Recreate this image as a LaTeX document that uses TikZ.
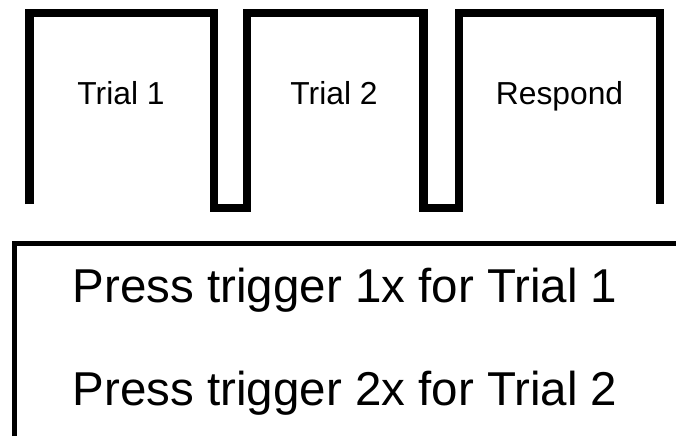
\documentclass[tikz,border=0pt]{standalone}
\usepackage{fontspec}
\setmainfont{Liberation Sans}
\begin{document}
\begin{tikzpicture}[x=1pt,y=-1pt,
  wave/.style={line width=8.5pt, line join=miter, line cap=butt},
  frameline/.style={line width=5pt, line cap=butt},
  phase/.style={anchor=base, inner sep=0pt, font=\fontsize{31.8}{32}\selectfont},
  instr/.style={anchor=base west, inner sep=0pt, font=\fontsize{47.5}{48}\selectfont}]
\useasboundingbox (0,0) rectangle (676,436);
\draw[wave] (29.5,204) -- (29.5,13) -- (214,13) -- (214,208) -- (247,208) -- (247,13)
  -- (423.5,13) -- (423.5,208) -- (459,208) -- (459,13) -- (660,13) -- (660,204);
\node[phase] (t1) at (121,104.3) {Trial 1};
\node[phase] (t2) at (334,104.3) {Trial 2};
\node[phase] (resp) at (559.5,104.3) {Respond};
\draw[frameline] (14,436) -- (14,243) -- (676,243);
\node[instr] (l1) at (72.5,302.7) {Press trigger 1x for Trial 1};
\node[instr] (l2) at (72.5,405) {Press trigger 2x for Trial 2};
\end{tikzpicture}
\end{document}
